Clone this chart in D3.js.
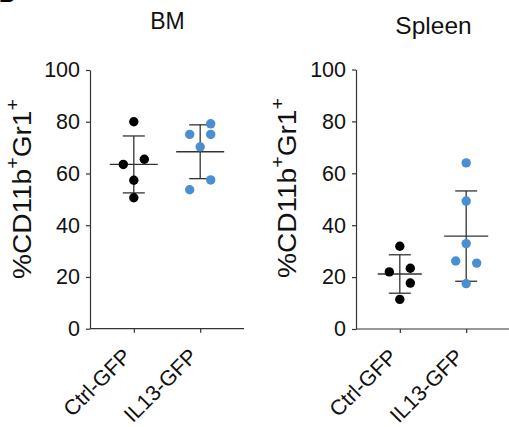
<!DOCTYPE html>
<html><head><meta charset="utf-8">
<script src="https://cdn.jsdelivr.net/npm/d3@7"></script>
<style>
body{margin:0;background:#fff;}
svg{display:block;font-family:"Liberation Sans",Arial,sans-serif;}
</style></head>
<body><svg id="c" width="509" height="427"></svg>
<script>
const categories = ["Ctrl-GFP", "IL13-GFP"];
const yTicks = [0, 20, 40, 60, 80, 100];
const panelTitles = ["BM", "Spleen"];

// BM values
const bmCtrl = [80.0, 65.5, 63.5, 57.4, 50.6];
const bmCtrlLane = [0, 1, -1, 0, 0];
const bmIL13 = [79.2, 75.1, 75.1, 70.3, 57.5, 53.7];
const bmIL13Lane = [1, -1, 1, 0, 1, -1];
const bmMean = [63.5, 68.4];
const bmSD = [11.0, 10.4];

// Spleen values
const spCtrl = [31.9, 22.0, 23.4, 17.7, 11.4];
const spCtrlLane = [0, -1, 1, 1, 0];
const spIL13 = [64.0, 49.3, 32.9, 26.2, 25.4, 17.5];
const spIL13Lane = [0, 0, 0, -1, 1, 0];
const spMean = [21.2, 35.8];
const spSD = [7.4, 17.4];

const colors = ["#000000", "#4a8fd1"];

const svg = d3.select("#c");

// panel label (cut off at top in the original)
svg.append("text").attr("x", -1).attr("y", 1.5).attr("font-size", 22).attr("font-weight", "bold").text("B");

const panels = [
  {title: panelTitles[0], ax: 90, end: 244, top: 70, bot: 328.7, titleX: 167.5, titleY: 28.5, titleSize: 23, labelX: 31, labelY: 189,
   groups: [[bmCtrl, bmCtrlLane], [bmIL13, bmIL13Lane]], mean: bmMean, sd: bmSD, mHalf: 24},
  {title: panelTitles[1], ax: 356, end: 510, top: 69.5, bot: 329, titleX: 433.5, titleY: 34, titleSize: 24.5, labelX: 296, labelY: 188,
   groups: [[spCtrl, spCtrlLane], [spIL13, spIL13Lane]], mean: spMean, sd: spSD, mHalf: 22}
];

panels.forEach(p => {
  const y = d3.scaleLinear().domain([0, 100]).range([p.bot, p.top]);
  const x = d3.scalePoint().domain(categories).range([p.ax, p.end]).padding(0.66);
  const g = svg.append("g");

  g.append("text").attr("x", p.titleX).attr("y", p.titleY).attr("text-anchor", "middle")
    .attr("font-size", p.titleSize).attr("fill", "#111").text(p.title);

  const yl = g.append("text").attr("transform", `translate(${p.labelX},${p.labelY}) rotate(-90) scale(1.1,1)`)
    .attr("text-anchor", "middle").attr("font-size", 25.5).attr("fill", "#111");
  yl.append("tspan").text("%CD11b");
  yl.append("tspan").attr("dy", -12).attr("font-size", 18).text("+");
  yl.append("tspan").attr("dy", 12).text("Gr1");
  yl.append("tspan").attr("dy", -12).attr("font-size", 18).text("+");

  const ya = g.append("g").attr("transform", `translate(${p.ax},0)`)
    .call(d3.axisLeft(y).tickValues(yTicks).tickSize(4).tickSizeOuter(0).tickPadding(6));
  ya.selectAll("text").attr("font-size", 21.5).attr("fill", "#111").attr("font-family", "Liberation Sans, Arial, sans-serif");
  ya.selectAll("line,path").attr("stroke", "#333").attr("stroke-width", 1.2);

  const xa = g.append("g").attr("transform", `translate(0,${p.bot})`)
    .call(d3.axisBottom(x).tickSize(4).tickSizeOuter(0));
  xa.select(".domain").attr("d", `M${p.ax},0H${p.end}`);
  xa.selectAll("line,path").attr("stroke", "#333").attr("stroke-width", 1.2);
  xa.selectAll("text").attr("font-size", 21.5).attr("fill", "#111").attr("font-family", "Liberation Sans, Arial, sans-serif")
    .attr("text-anchor", "end").attr("dy", 0).attr("y", 0)
    .attr("transform", "translate(-2,29) rotate(-45)");

  categories.forEach((c, i) => {
    const cx = x(c);
    const m = p.mean[i], s = p.sd[i];
    const line = (x1, y1, x2, y2) => g.append("line").attr("x1", x1).attr("y1", y1).attr("x2", x2).attr("y2", y2)
      .attr("stroke", "#333").attr("stroke-width", 1.3);
    line(cx, y(m + s), cx, y(m - s));
    line(cx - 11, y(m + s), cx + 11, y(m + s));
    line(cx - 11, y(m - s), cx + 11, y(m - s));
    line(cx - p.mHalf, y(m), cx + p.mHalf, y(m));
    const [vals, lanes] = p.groups[i];
    g.selectAll(null).data(vals).enter().append("circle")
      .attr("cx", (d, k) => cx + lanes[k] * 10.5)
      .attr("cy", d => y(d))
      .attr("r", 4.7)
      .attr("fill", colors[i]);
  });
});
</script></body></html>
